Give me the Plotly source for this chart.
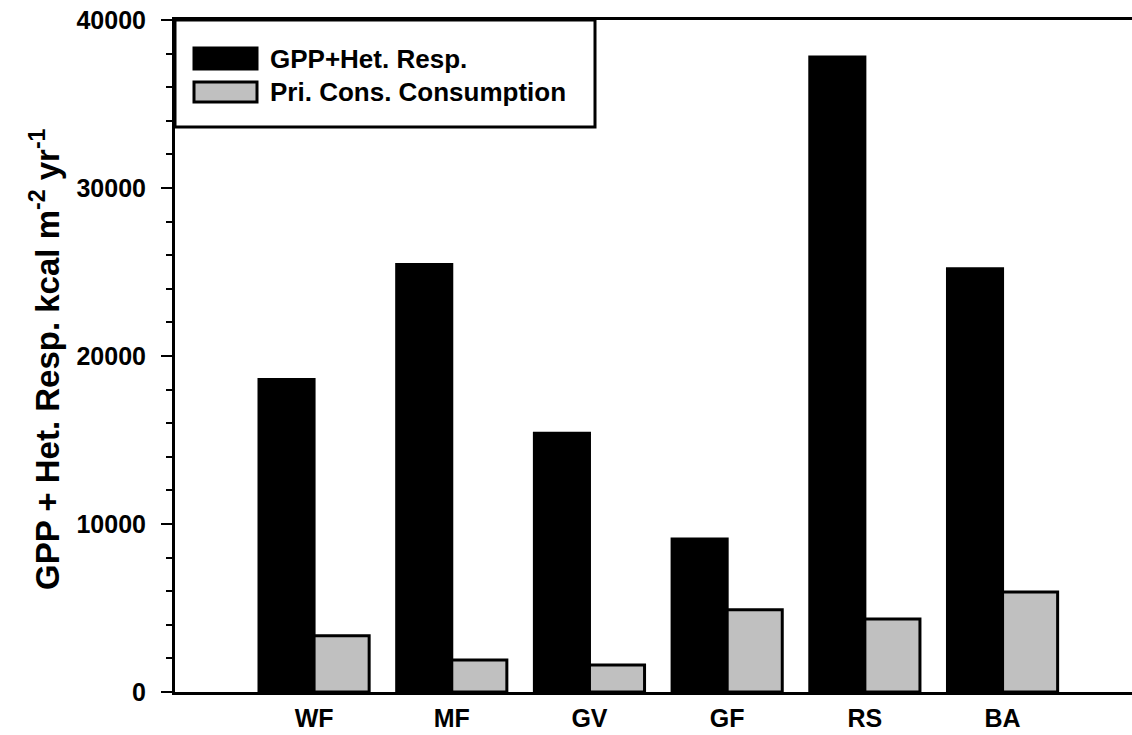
import plotly.graph_objects as go

# Sites and annual energy flows (kcal m^-2 yr^-1)
sites = ["WF", "MF", "GV", "GF", "RS", "BA"]
gpp_het_resp = [18600, 25450, 15400, 9100, 37800, 25200]
pri_cons_consumption = [3350, 1900, 1600, 4900, 4350, 5950]

series_names = ["GPP+Het. Resp.", "Pri. Cons. Consumption"]
series_colors = ["#000000", "#c0c0c0"]

FONT = "Liberation Sans, Arial, sans-serif"

fig = go.Figure()
for name, vals, col in zip(series_names, [gpp_het_resp, pri_cons_consumption], series_colors):
    fig.add_trace(go.Bar(
        x=sites, y=vals, name=name,
        marker=dict(color=col, line=dict(color="#000000", width=3)),
        showlegend=False,
    ))

W, H = 1132, 735
L, R, T, B = 175, 0, 20, 43
pw = W - L - R
ph = H - T - B

def px_x(x):
    return (x - L) / pw

def px_y(y):
    return (H - B - y) / ph

fig.update_layout(
    width=W, height=H,
    margin=dict(l=L, r=R, t=T, b=B),
    paper_bgcolor="white", plot_bgcolor="white",
    barmode="group", bargap=0.2, bargroupgap=0,
    font=dict(family=FONT, color="#000000"),
    xaxis=dict(
        range=[-1.01, 5.94], showline=True, linecolor="#000000", linewidth=3,
        mirror=True, ticks="", showgrid=False, zeroline=False,
        tickfont=dict(size=25, family=FONT, weight="bold"),
        ticklabelstandoff=2,
    ),
    yaxis=dict(
        range=[0, 40000], showline=True, linecolor="#000000", linewidth=3,
        ticks="outside", ticklen=11, tickwidth=2, tickcolor="#000000",
        dtick=10000, tickformat="d", showgrid=False, zeroline=False,
        tickfont=dict(size=25, family=FONT, weight="bold"),
        ticklabelstandoff=10,
        minor=dict(ticks="outside", ticklen=6, tickwidth=2, tickcolor="#000000",
                   dtick=2000, showgrid=False),
    ),
)

# Y-axis title
fig.add_annotation(
    text="GPP + Het. Resp. kcal m<sup>-2</sup> yr<sup>-1</sup>",
    xref="paper", yref="paper", x=px_x(45), y=px_y(359),
    xanchor="center", yanchor="middle", textangle=-90, showarrow=False,
    font=dict(size=33, family=FONT, weight="bold", color="#000000"),
)

# Legend box with swatches and labels
fig.add_shape(type="rect", xref="paper", yref="paper",
              x0=px_x(175), x1=px_x(595), y0=px_y(127), y1=px_y(20),
              line=dict(color="#000000", width=3), fillcolor="white", layer="above")
swatch_rows = [(48, 69), (82, 102)]
label_y = [59, 92]
for (y0, y1), ly, name, col in zip(swatch_rows, label_y, series_names, series_colors):
    fig.add_shape(type="rect", xref="paper", yref="paper",
                  x0=px_x(194), x1=px_x(257), y0=px_y(y1), y1=px_y(y0),
                  line=dict(color="#000000", width=3), fillcolor=col, layer="above")
    fig.add_annotation(
        text=name, xref="paper", yref="paper", x=px_x(268), y=px_y(ly),
        xanchor="left", yanchor="middle", showarrow=False,
        font=dict(size=26, family=FONT, weight="bold", color="#000000"),
    )

fig.write_html("out.html")
